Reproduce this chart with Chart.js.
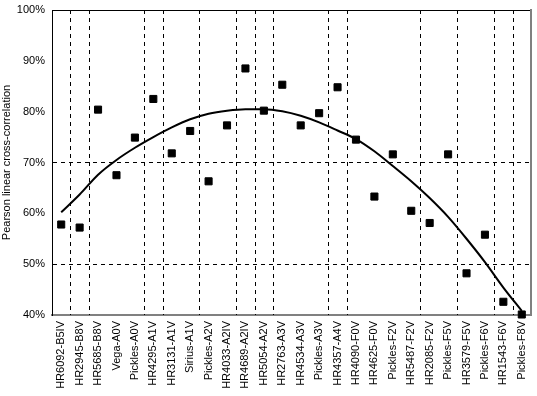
<!DOCTYPE html>
<html>
<head>
<meta charset="utf-8">
<script src="https://cdn.jsdelivr.net/npm/chart.js@4"></script>
<style>
  body { margin: 0; background: #fff; }
  #wrap { width: 537px; height: 396px; }
</style>
</head>
<body>
<div id="wrap"><canvas id="dia"></canvas></div>
<script>
// categories (stars)
const stars = ['HR6092-B5IV','HR2945-B8V','HR5685-B8V','Vega-A0V','Pickles-A0V','HR4295-A1V','HR3131-A1V','Sirius-A1V','Pickles-A2V','HR4033-A2IV','HR4689-A2IV','HR5054-A2V','HR2763-A3V','HR4534-A3V','Pickles-A3V','HR4357-A4V','HR4090-F0V','HR4625-F0V','Pickles-F2V','HR5487-F2V','HR2085-F2V','Pickles-F5V','HR3579-F5V','Pickles-F6V','HR1543-F6V','Pickles-F8V'];

// correlation values (%)
const corr = [57.8, 57.2, 80.4, 67.5, 74.9, 82.5, 71.8, 76.2, 66.3, 77.3, 88.5, 80.2, 85.3, 77.3, 79.7, 84.8, 74.5, 63.3, 71.6, 60.5, 58.1, 71.6, 48.2, 55.8, 42.6, 40.1];

// trend curve
const trend = [60.2, 63.7, 67.6, 70.5, 72.9, 75.0, 76.9, 78.5, 79.6, 80.2, 80.5, 80.5, 80.1, 79.2, 77.9, 76.3, 74.6, 72.2, 69.3, 66.3, 63.0, 59.3, 55.0, 50.4, 45.4, 40.8];

// vertical dashed lines: left edge of these categories
const xBreaks = [1, 2, 5, 6, 8, 10, 11, 12, 15, 16, 20, 22, 24, 25];
// horizontal dashed lines
const yLines = [50, 70];
const yTicks = [40, 50, 60, 70, 80, 90, 100];

const font = { family: 'Liberation Sans, Arial, sans-serif', size: 11 };
Chart.defaults.font = font;
Chart.defaults.color = '#000';

const none = 'rgba(0,0,0,0)';

// dashed lines between some categories, placed with the x scale
const breakLines = {
    id: 'breakLines',
    beforeDatasetsDraw(chart) {
        const { ctx, chartArea: a, scales: { x } } = chart;
        ctx.save();
        ctx.strokeStyle = '#000';
        ctx.lineWidth = 1;
        ctx.setLineDash([4, 4]);
        xBreaks.forEach(k => {
            const px = Math.round((x.getPixelForValue(k - 1) + x.getPixelForValue(k)) / 2) + 0.5;
            ctx.beginPath();
            ctx.moveTo(px, a.top);
            ctx.lineTo(px, a.bottom);
            ctx.stroke();
        });
        ctx.restore();
    }
};

new Chart(document.getElementById('dia'), {
    type: 'line',
    data: {
        labels: stars,
        datasets: [{
            data: corr,
            showLine: false,
            pointStyle: 'rect',
            pointRadius: 5,
            pointHoverRadius: 5,
            pointBackgroundColor: '#000',
            pointBorderColor: '#000',
            pointBorderWidth: 1,
            clip: false
        }, {
            data: trend,
            borderColor: '#000',
            borderWidth: 2,
            pointRadius: 0,
            cubicInterpolationMode: 'monotone',
            clip: false
        }]
    },
    options: {
        responsive: true,
        maintainAspectRatio: false,
        animation: false,
        events: [],
        layout: { padding: { top: 10, right: 2, left: 0, bottom: 0 } },
        plugins: { legend: { display: false }, tooltip: { enabled: false } },
        scales: {
            x: {
                offset: true,
                grid: { display: false, drawTicks: false },
                border: { color: '#808080', width: 2 },
                ticks: { autoSkip: false, maxRotation: 90, minRotation: 90, padding: 6, font: font },
                afterFit: s => {
                    s.height = 81; s.paddingLeft = 0; s.paddingRight = 0;
                    if (s._margins) { s._margins.left = 0; s._margins.right = 0; }
                }
            },
            xTop: {
                position: 'top',
                labels: stars,
                type: 'category',
                grid: { display: false, drawTicks: false },
                ticks: { display: false },
                border: { color: '#000', width: 1 },
                afterFit: s => {
                    s.height = 0; s.paddingLeft = 0; s.paddingRight = 0;
                    if (s._margins) { s._margins.left = 0; s._margins.right = 0; }
                }
            },
            y: {
                min: 40,
                max: 100,
                afterBuildTicks: s => { s.ticks = yTicks.map(v => ({ value: v })); },
                grid: {
                    drawTicks: false,
                    color: ctx => ctx.tick && yLines.includes(ctx.tick.value) ? '#000' : none,
                    tickColor: none
                },
                border: { color: '#000', width: 1, dash: [4, 4] },
                ticks: { padding: 7, callback: v => v + '%', font: font },
                title: {
                    display: true,
                    text: 'Pearson linear cross-correlation',
                    font: font,
                    padding: { top: 0, bottom: 0 }
                },
                afterFit: s => { s.width = 52; s.paddingTop = 0; s.paddingBottom = 0; }
            },
            yRight: {
                position: 'right',
                min: 40,
                max: 100,
                grid: { display: false, drawTicks: false },
                ticks: { display: false },
                border: { color: '#808080', width: 2 },
                afterFit: s => { s.width = -4; s.paddingTop = 0; s.paddingBottom = 0; }
            }
        }
    },
    plugins: [breakLines]
});
</script>
</body>
</html>
